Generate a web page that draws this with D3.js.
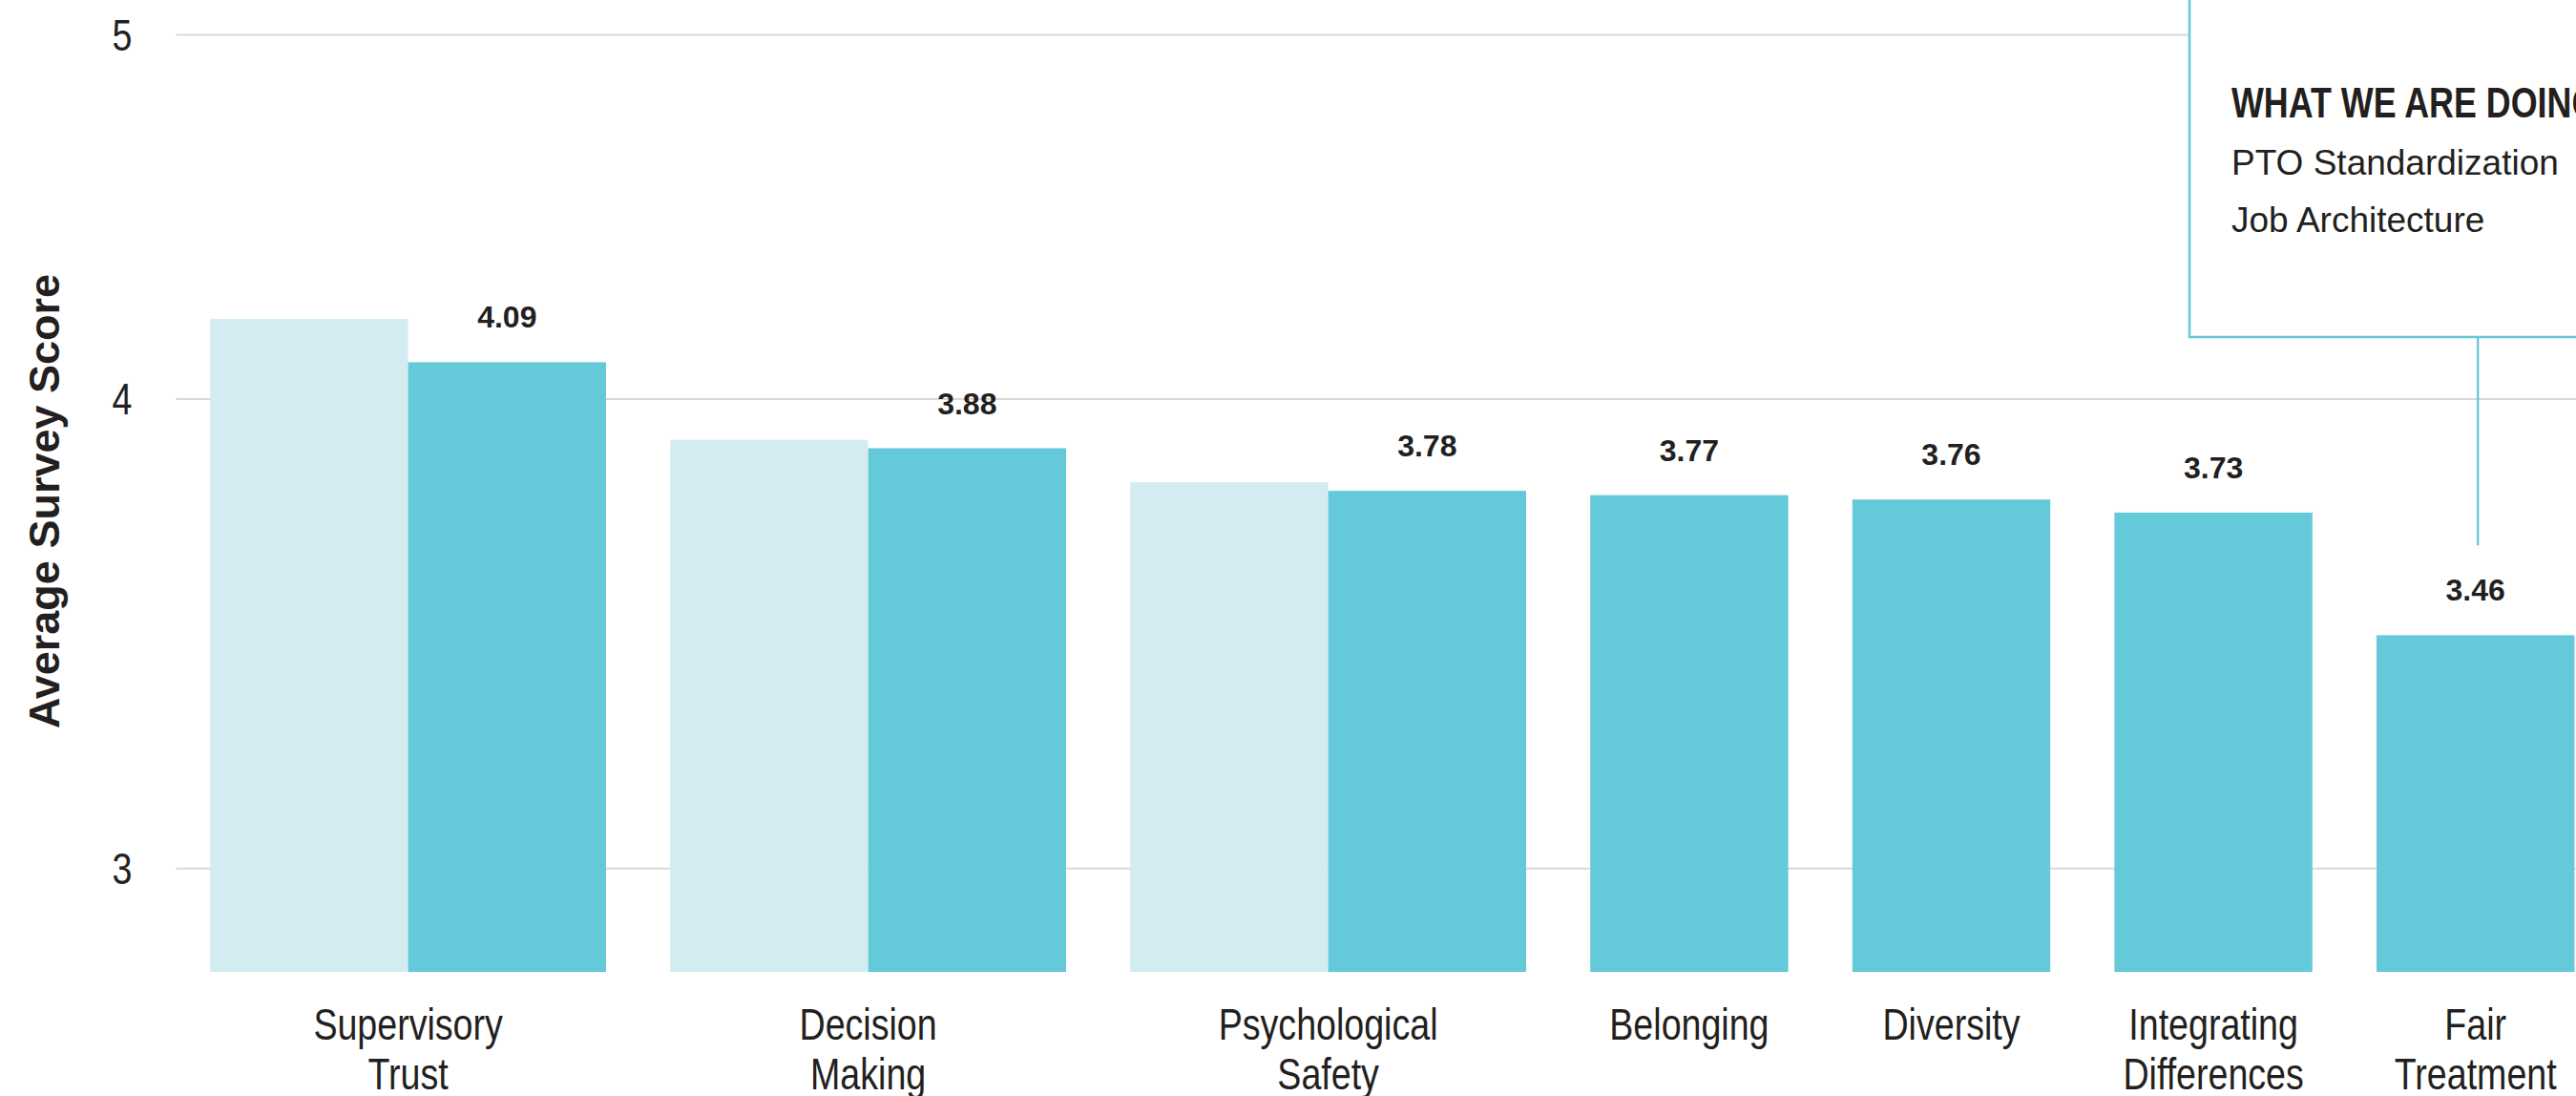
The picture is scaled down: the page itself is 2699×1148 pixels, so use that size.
<!DOCTYPE html>
<html><head><meta charset="utf-8">
<script src="https://cdn.jsdelivr.net/npm/d3@7"></script>
<style>body{margin:0;background:#fff;} svg{display:block;}</style>
</head><body>
<svg id="chart" width="2699" height="1148"></svg>
<script>
// ---- data ----
const categories = ["Supervisory Trust","Decision Making","Psychological Safety","Belonging","Diversity","Integrating Differences","Fair Treatment"];
const categoryLines = [["Supervisory","Trust"],["Decision","Making"],["Psychological","Safety"],["Belonging"],["Diversity"],["Integrating","Differences"],["Fair","Treatment"]];
const priorScores = [4.20, 3.90, 3.80, null, null, null, null];
const currentScores = [4.09, 3.88, 3.78, 3.77, 3.76, 3.73, 3.46];
const valueLabels = ["4.09","3.88","3.78","3.77","3.76","3.73","3.46"];
const yTicks = [3, 4, 5];
const yTitle = "Average Survey Score";
const noteTitle = "WHAT WE ARE DOING";
const noteLines = ["PTO Standardization","Job Architecture"];
const noteCategory = "Fair Treatment";

// ---- style ----
const FONT = "'Liberation Sans', Arial, Helvetica, sans-serif";
const TEXT = "#231f20";
const DARK = "#64c9d8";
const LIGHT = "#d3ecf2";
const GRID = "#d9d9d9";

const svg = d3.select("#chart");
svg.append("rect").attr("width",2699).attr("height",1148).attr("fill","#fff");

// x layout in "bar slot" units: bars of one category touch, categories separated by a gap
const gapSlots = 67.2/207.4;
let pos = 0;
const layout = categories.map((c,i)=>{
  const n = priorScores[i]==null ? 1 : 2;
  const s = pos; pos += n + gapSlots;
  return {i, c, n, start:s};
});
const x = d3.scaleLinear().domain([0,1]).range([220.2, 427.6]);
const y = d3.scaleLog().domain([2.815,5]).range([1018,36]);

// gridlines + tick labels via axis
const axisX0 = 184.3;
const yAxis = d3.axisLeft(y).tickValues(yTicks).tickFormat(d3.format("d"))
  .tickSize(-(2699-axisX0)).tickPadding(0);
const gAxis = svg.append("g").attr("transform",`translate(${axisX0},0)`).call(yAxis);
gAxis.select(".domain").remove();
gAxis.selectAll(".tick line").attr("stroke",GRID).attr("stroke-width",2);
gAxis.selectAll(".tick text")
  .attr("x",null).attr("dy",null)
  .attr("transform","translate(-46,16.5) scale(0.8,1)")
  .attr("text-anchor","end")
  .attr("fill",TEXT).style("font-family",FONT).style("font-size","47px");

// note box (covers the top gridline)
const noteLayout = layout[categories.indexOf(noteCategory)];
svg.append("rect").attr("x",2294).attr("y",-20).attr("width",600).attr("height",373)
  .attr("fill","#fff").attr("stroke",DARK).attr("stroke-width",2.5);
svg.append("text").attr("transform","translate(2338,123.3) scale(0.815,1)")
  .attr("fill",TEXT).style("font-family",FONT).style("font-size","44px").style("font-weight","bold")
  .text(noteTitle);
svg.selectAll("text.noteLine").data(noteLines).enter().append("text").attr("class","noteLine")
  .attr("x",2338).attr("y",(d,i)=>183.3+i*60)
  .attr("fill",TEXT).style("font-family",FONT).style("font-size","37px")
  .text(d=>d);
const noteX = x(noteLayout.start + noteLayout.n/2) + 2.5;
svg.append("line").attr("x1",noteX).attr("x2",noteX).attr("y1",353)
  .attr("y2",y(currentScores[noteLayout.i]) - 94)
  .attr("stroke",DARK).attr("stroke-width",2.3);

// bars
const bw = x(1)-x(0);
const gBars = svg.append("g");
gBars.selectAll("rect.prior").data(layout.filter(d=>priorScores[d.i]!=null)).enter().append("rect")
  .attr("class","prior")
  .attr("x",d=>x(d.start)).attr("width",bw)
  .attr("y",d=>y(priorScores[d.i])).attr("height",d=>y(2.815)-y(priorScores[d.i]))
  .attr("fill",LIGHT);
gBars.selectAll("rect.current").data(layout).enter().append("rect")
  .attr("class","current")
  .attr("x",d=>x(d.start+d.n-1)).attr("width",bw)
  .attr("y",d=>y(currentScores[d.i])).attr("height",d=>y(2.815)-y(currentScores[d.i]))
  .attr("fill",DARK);

// value labels
svg.selectAll("text.val").data(layout).enter().append("text").attr("class","val")
  .attr("x",d=>x(d.start+d.n-0.5)).attr("y",d=>y(currentScores[d.i])-36)
  .attr("text-anchor","middle").attr("fill",TEXT)
  .style("font-family",FONT).style("font-size","32px").style("font-weight","bold")
  .text(d=>valueLabels[d.i]);

// category labels
const cl = svg.selectAll("text.cat").data(layout).enter().append("text").attr("class","cat")
  .attr("transform",d=>`translate(${x(d.start+d.n/2)},1088.5) scale(0.8,1)`)
  .attr("text-anchor","middle").attr("fill",TEXT)
  .style("font-family",FONT).style("font-size","47px");
cl.selectAll("tspan").data(d=>categoryLines[d.i]).enter().append("tspan")
  .attr("x",0).attr("y",(d,i)=>i*52.5).text(d=>d);

// y title
svg.append("text").attr("transform","translate(61.5,525) rotate(-90)")
  .attr("text-anchor","middle").attr("fill",TEXT)
  .style("font-family",FONT).style("font-size","45px").style("font-weight","bold")
  .text(yTitle);
</script>
</body></html>
